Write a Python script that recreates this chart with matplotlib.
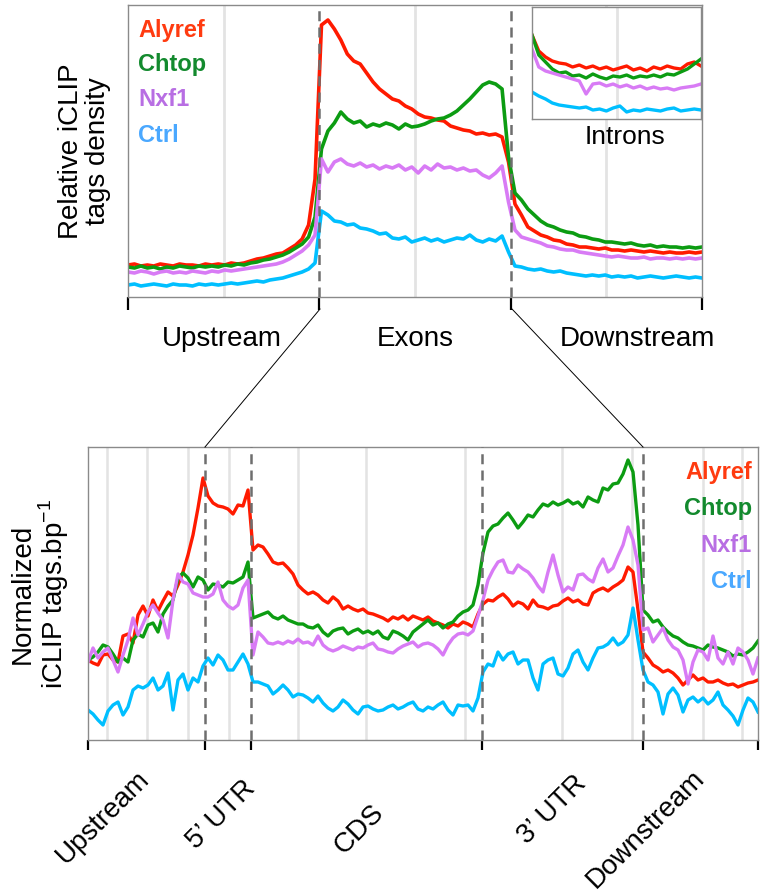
import numpy as np
import matplotlib
matplotlib.use('Agg')
import matplotlib.pyplot as plt
from matplotlib.lines import Line2D

plt.rcParams['font.family'] = ['Liberation Sans', 'DejaVu Sans']

proteins = ['Alyref', 'Chtop', 'Nxf1', 'Ctrl']
line_colors = ['#ff1a00', '#0c9c12', '#d87bf5', '#00bfff']
text_colors = ['#ff3b10', '#138a2e', '#b86ee3', '#4aa8ff']

# top panel: relative density over Upstream / Exons / Downstream (90 bins)
top_regions = ['Upstream', 'Exons', 'Downstream']
top_alyref = [32, 33, 31, 32, 31, 33, 32, 31, 33, 32, 32, 31, 33, 32, 33, 32, 34, 33, 34, 36,
              38, 39, 41, 43, 44, 48, 52, 58, 72, 118, 272, 277, 268, 257, 243, 236, 233, 224, 215, 208,
              203, 198, 196, 191, 188, 183, 180, 179, 177, 176, 171, 169, 167, 166, 163, 164, 162, 163, 160, 135,
              93, 82, 70, 66, 62, 60, 57, 56, 53, 52, 50, 50, 49, 48, 49, 47, 47, 46, 47, 46,
              45, 46, 45, 44, 45, 44, 44, 45, 44, 45]
top_chtop = [30, 29, 31, 29, 30, 28, 30, 29, 31, 30, 29, 31, 30, 31, 30, 32, 31, 33, 32, 34,
             35, 37, 38, 40, 42, 45, 49, 53, 60, 80, 148, 166, 174, 185, 178, 174, 176, 170, 173, 171,
             174, 172, 168, 173, 170, 171, 173, 176, 178, 179, 182, 186, 192, 198, 205, 212, 215, 213, 208, 140,
             104, 97, 88, 82, 76, 72, 70, 67, 65, 64, 61, 60, 58, 57, 55, 55, 54, 53, 54, 52,
             51, 52, 50, 51, 50, 50, 49, 50, 49, 50]
top_nxf1 = [25, 24, 26, 25, 23, 25, 26, 24, 25, 24, 26, 25, 24, 26, 25, 27, 26, 27, 28, 29,
            30, 31, 32, 33, 35, 38, 42, 46, 52, 62, 138, 125, 135, 138, 133, 131, 134, 130, 132, 128,
            131, 129, 132, 127, 130, 124, 131, 127, 133, 129, 130, 127, 129, 126, 127, 122, 119, 124, 131, 95,
            67, 60, 58, 56, 54, 51, 50, 48, 47, 47, 45, 44, 43, 42, 41, 40, 41, 40, 39, 39,
            40, 38, 39, 39, 38, 39, 38, 39, 38, 39]
top_ctrl = [12, 13, 11, 12, 13, 12, 11, 13, 12, 12, 11, 13, 12, 13, 12, 13, 14, 13, 14, 15,
            16, 15, 17, 18, 19, 21, 23, 25, 28, 34, 86, 82, 76, 75, 72, 73, 69, 68, 66, 63,
            64, 59, 58, 60, 55, 57, 59, 56, 58, 55, 57, 59, 58, 62, 57, 55, 58, 56, 61, 45,
            31, 30, 28, 27, 28, 26, 25, 26, 24, 23, 22, 21, 22, 21, 22, 20, 21, 20, 21, 19,
            20, 21, 20, 19, 20, 21, 20, 19, 20, 19]

# inset: introns (26 bins)
intron_alyref = [84, 68, 62, 58, 56, 55, 52, 54, 51, 53, 50, 52, 49, 51, 53, 49, 51, 48, 52, 50,
                 53, 51, 50, 55, 57, 53]
intron_chtop = [84, 64, 57, 50, 46, 47, 43, 44, 41, 45, 42, 40, 43, 42, 44, 41, 43, 42, 44, 42,
                45, 44, 47, 50, 55, 60]
intron_nxf1 = [70, 52, 48, 46, 44, 42, 40, 38, 25, 35, 36, 33, 35, 32, 34, 31, 33, 30, 32, 30,
               31, 29, 31, 32, 33, 35]
intron_ctrl = [27, 23, 20, 16, 14, 13, 12, 11, 12, 9, 10, 8, 11, 13, 7, 9, 8, 10, 9, 8,
               10, 11, 8, 9, 10, 9]

# bottom panel: normalized tags per bp over metagene (135 bins)
bot_regions = ['Upstream', '5\u2019 UTR', 'CDS', '3\u2019 UTR', 'Downstream']
bot_bounds = [0, 117, 163, 394, 555, 670]
bot_grid = [19, 59, 100, 141, 210, 278, 377, 474, 544, 615, 654]
bot_alyref = [80, 77, 75, 85, 86, 80, 78, 104, 106, 97, 125, 134, 124, 140, 129, 139, 148, 144, 155, 168,
              185, 205, 232, 262, 244, 237, 234, 233, 231, 226, 235, 234, 250, 190, 195, 193, 186, 178, 176, 177,
              172, 166, 155, 150, 146, 148, 145, 140, 137, 143, 139, 131, 134, 131, 129, 131, 127, 126, 124, 122,
              119, 123, 121, 124, 120, 124, 122, 120, 123, 119, 117, 115, 112, 116, 114, 118, 116, 113, 126, 136,
              140, 139, 143, 146, 141, 134, 138, 136, 131, 140, 134, 133, 131, 134, 135, 139, 142, 138, 140, 136,
              135, 147, 150, 152, 149, 153, 156, 160, 173, 168, 130, 88, 82, 75, 72, 68, 70, 67, 62, 55,
              60, 65, 60, 62, 58, 58, 60, 57, 55, 56, 53, 55, 57, 58, 60]
bot_chtop = [80, 83, 88, 95, 93, 86, 78, 82, 78, 100, 106, 103, 115, 117, 108, 126, 134, 140, 162, 167,
             162, 153, 163, 160, 150, 156, 155, 153, 158, 157, 160, 163, 178, 122, 124, 126, 128, 123, 121, 124,
             120, 118, 116, 116, 113, 112, 115, 108, 104, 109, 111, 112, 106, 109, 111, 107, 109, 106, 109, 103,
             101, 109, 107, 104, 100, 108, 112, 116, 120, 115, 117, 112, 116, 118, 124, 128, 130, 135, 155, 187,
             208, 214, 216, 222, 227, 220, 212, 218, 225, 223, 230, 236, 234, 238, 235, 237, 240, 236, 238, 233,
             243, 240, 238, 252, 250, 256, 257, 266, 280, 268, 215, 130, 125, 118, 120, 113, 108, 104, 102, 98,
             95, 94, 92, 90, 95, 93, 92, 90, 88, 84, 86, 85, 88, 92, 99]
bot_nxf1 = [78, 92, 82, 88, 92, 80, 68, 85, 100, 122, 105, 116, 128, 135, 127, 120, 102, 140, 166, 158,
            156, 147, 145, 143, 143, 146, 158, 140, 134, 131, 135, 152, 160, 85, 108, 103, 97, 96, 98, 96,
            99, 97, 101, 97, 98, 95, 104, 95, 91, 89, 91, 94, 92, 90, 93, 92, 95, 97, 91, 90,
            88, 87, 91, 94, 96, 98, 93, 96, 97, 95, 91, 85, 95, 102, 106, 107, 105, 109, 124, 140,
            160, 170, 178, 180, 168, 167, 175, 171, 168, 162, 154, 148, 168, 185, 165, 148, 153, 150, 165, 166,
            161, 158, 172, 181, 168, 172, 184, 195, 213, 200, 175, 110, 112, 98, 105, 112, 100, 93, 90, 80,
            56, 78, 90, 88, 80, 104, 82, 76, 88, 76, 92, 88, 80, 66, 82]
bot_ctrl = [30, 26, 20, 15, 29, 35, 38, 25, 33, 50, 54, 52, 55, 62, 50, 54, 67, 30, 60, 66,
            50, 62, 58, 74, 82, 75, 85, 80, 70, 70, 78, 86, 76, 58, 58, 56, 54, 46, 50, 55,
            50, 43, 46, 45, 42, 38, 44, 37, 32, 29, 33, 40, 36, 30, 26, 33, 34, 31, 29, 30,
            33, 35, 31, 33, 36, 38, 31, 29, 33, 31, 35, 38, 30, 25, 35, 34, 35, 29, 42, 68,
            76, 74, 88, 80, 86, 88, 76, 80, 80, 62, 50, 76, 80, 82, 66, 64, 72, 86, 90, 78,
            70, 82, 92, 93, 96, 102, 95, 98, 105, 132, 100, 70, 58, 55, 48, 26, 46, 52, 45, 28,
            40, 43, 38, 42, 36, 40, 48, 35, 30, 24, 15, 30, 42, 38, 28]

DPI = 100
fig = plt.figure(figsize=(7.64, 8.93), dpi=DPI)

grid_color = '#e3e3e3'
dash_color = '#6e6e6e'
spine_color = '#8a8a8a'


def style_axes(ax, tick_len):
    for sp in ax.spines.values():
        sp.set_color(spine_color)
        sp.set_linewidth(1.0)
    ax.set_yticks([])
    ax.tick_params(axis='x', direction='out', length=tick_len, width=1.6,
                   color='black', labelbottom=False)


# ---------- top panel ----------
ax1 = fig.add_axes([128 / 764, 1 - 297 / 893, 574 / 764, 292 / 893])
top_x = np.linspace(0, 3, len(top_alyref))
for g in [0.5, 1.5, 2.5]:
    ax1.axvline(g, color=grid_color, lw=2, zorder=0)
for ys, c in zip([top_alyref, top_chtop, top_nxf1, top_ctrl], line_colors):
    ax1.plot(top_x, ys, color=c, lw=2.6, zorder=2)
for b in [1, 2]:
    ax1.axvline(b, color=dash_color, lw=1.8, ls=(0, (4, 2.5)), zorder=4)
ax1.set_xlim(0, 3)
ax1.set_ylim(0, 292)
ax1.set_xticks([0, 1, 2, 3])
style_axes(ax1, 9.5)
top_label_x = [0.49, 1.5, 2.66]
for name, lx in zip(top_regions, top_label_x):
    ax1.text(lx, -0.145, name, transform=ax1.get_xaxis_transform(),
             ha='center', va='center', fontsize=20)
ax1.set_ylabel('Relative iCLIP\ntags density', fontsize=20, labelpad=12, linespacing=1.05)
for k, (name, c) in enumerate(zip(proteins, text_colors)):
    ax1.text(10 / 574, 1 - (25 + 35 * k) / 292, name, transform=ax1.transAxes,
             color=c, fontsize=17, fontweight='bold', ha='left', va='center')

# inset: introns
axi = fig.add_axes([532 / 764, 1 - 119 / 893, 169 / 764, 112 / 893])
intron_x = np.linspace(0, 1, len(intron_alyref))
axi.axvline(0.5, color=grid_color, lw=2, zorder=0)
for ys, c in zip([intron_alyref, intron_chtop, intron_nxf1, intron_ctrl], line_colors):
    axi.plot(intron_x, ys, color=c, lw=2.4, zorder=2)
axi.set_xlim(0, 1)
axi.set_ylim(0, 112)
axi.set_xticks([])
style_axes(axi, 0)
fig.text(625 / 764, 1 - 137 / 893, 'Introns', ha='center', va='center', fontsize=19)

# ---------- bottom panel ----------
ax2 = fig.add_axes([88 / 764, 1 - 740 / 893, 670 / 764, 293 / 893])
bot_x = np.linspace(0, 670, len(bot_alyref))
for g in bot_grid:
    ax2.axvline(g, color=grid_color, lw=1.8, zorder=0)
for ys, c in zip([bot_alyref, bot_chtop, bot_nxf1, bot_ctrl], line_colors):
    ax2.plot(bot_x, ys, color=c, lw=2.4, zorder=2)
for b in bot_bounds[1:-1]:
    ax2.axvline(b, color=dash_color, lw=1.8, ls=(0, (4, 2.5)), zorder=4)
ax2.set_xlim(0, 670)
ax2.set_ylim(0, 293)
ax2.set_xticks(bot_bounds)
style_axes(ax2, 7)
bot_label_pos = [(103, 817), (221, 815), (359, 829), (552, 810), (646, 829)]
for name, (px, py) in zip(bot_regions, bot_label_pos):
    fig.text(px / 764, 1 - py / 893, name, rotation=45, ha='center', va='center', fontsize=20)
ax2.set_ylabel('Normalized\niCLIP tags.bp$^{\\mathregular{-1}}$', fontsize=20, labelpad=12,
               linespacing=1.05)
for k, (name, c) in enumerate(zip(proteins, text_colors)):
    ax2.text(1 - 6 / 670, 1 - (25 + 36.5 * k) / 293, name, transform=ax2.transAxes,
             color=c, fontsize=17, fontweight='bold', ha='right', va='center')

# zoom connector lines between the panels
for x0, x1 in [(320, 205), (512, 643)]:
    fig.add_artist(Line2D([x0 / 764, x1 / 764], [1 - 309 / 893, 1 - 447 / 893],
                          transform=fig.transFigure, color='black', lw=0.7))

fig.savefig('out.png', dpi=DPI)
